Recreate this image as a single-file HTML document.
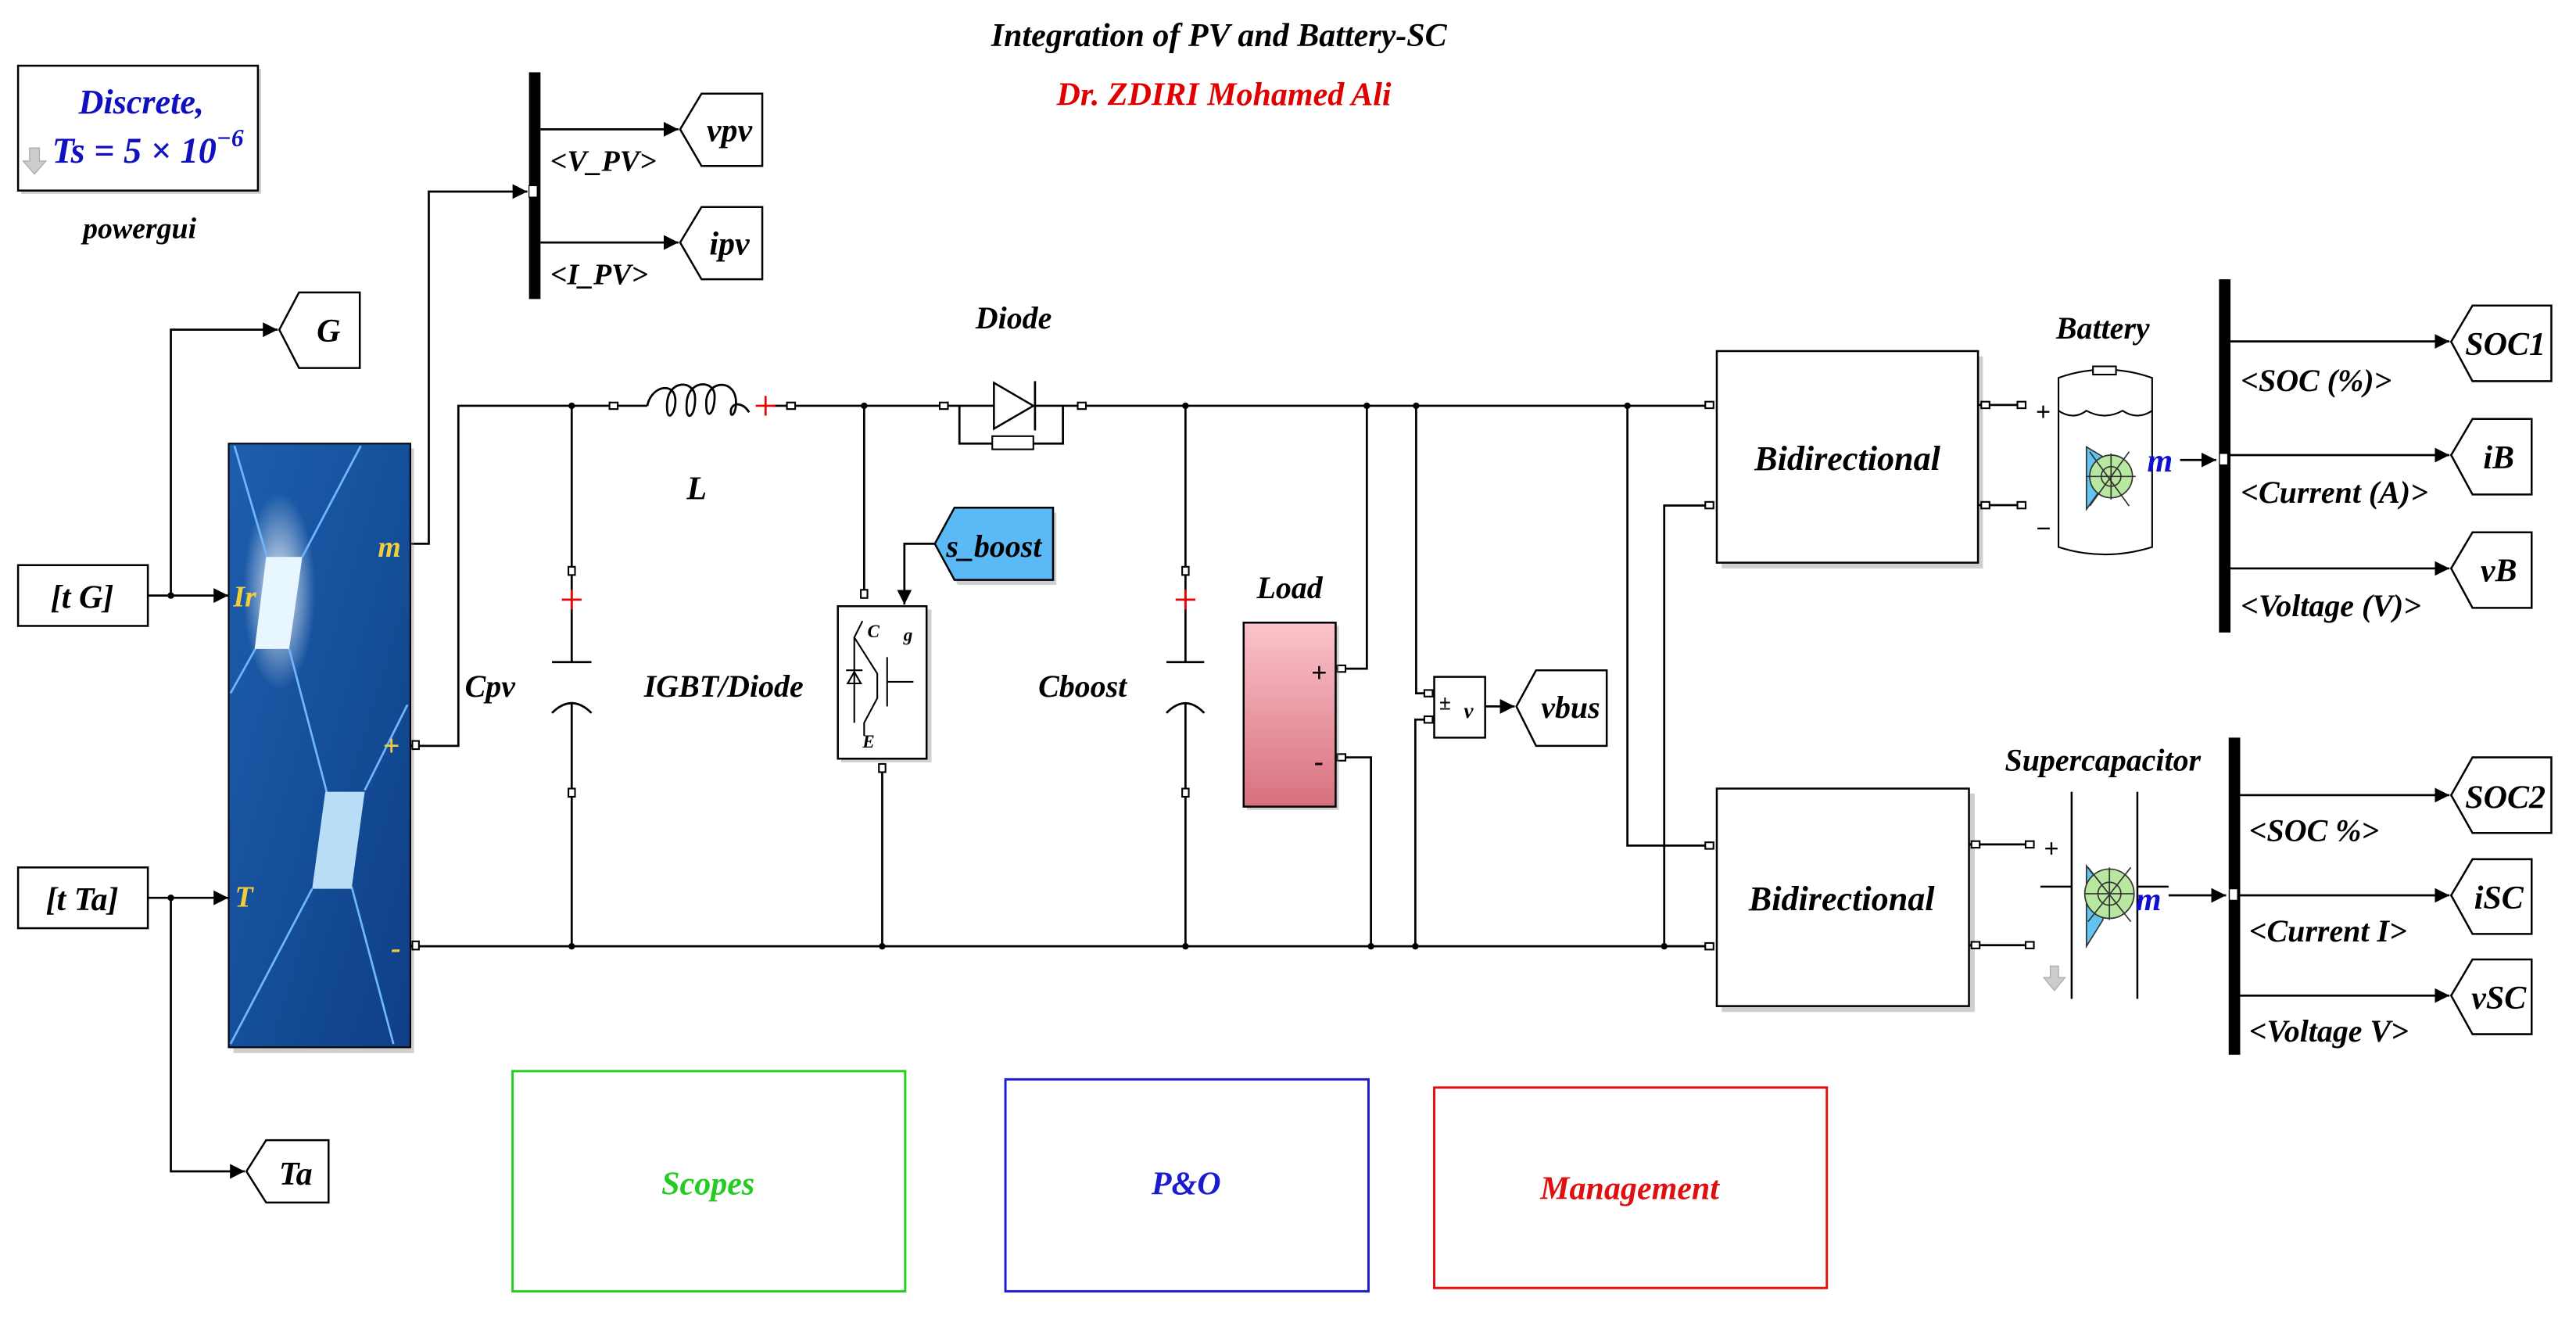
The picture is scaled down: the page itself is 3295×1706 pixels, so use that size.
<!DOCTYPE html>
<html><head><meta charset="utf-8"><style>
html,body{margin:0;padding:0;background:#fff;}
svg{display:block;}
text{font-family:"Liberation Serif",serif;font-style:italic;font-weight:bold;}
</style></head><body>
<svg width="3295" height="1706" viewBox="0 0 1568 812" preserveAspectRatio="none" xmlns="http://www.w3.org/2000/svg">
<defs>
<linearGradient id="pv" x1="0" y1="0" x2="1" y2="1"><stop offset="0" stop-color="#1d5fae"/><stop offset="0.5" stop-color="#154f9a"/><stop offset="1" stop-color="#0f3f86"/></linearGradient>
<radialGradient id="glow" cx="0.5" cy="0.5" r="0.5"><stop offset="0" stop-color="#ffffff" stop-opacity="0.9"/><stop offset="1" stop-color="#ffffff" stop-opacity="0"/></radialGradient>
<linearGradient id="load" x1="0" y1="0" x2="0" y2="1"><stop offset="0" stop-color="#fbc3cb"/><stop offset="1" stop-color="#d8707e"/></linearGradient>
<marker id="ar" viewBox="0 0 10 10" refX="10" refY="5" markerWidth="9" markerHeight="9" markerUnits="userSpaceOnUse" orient="auto"><path d="M0,0 L10,5 L0,10 z" fill="#000"/></marker>
</defs>
<text x="742" y="28" font-size="20" text-anchor="middle" fill="#000">Integration of PV and Battery-SC</text>
<text x="745" y="64" font-size="20" text-anchor="middle" fill="#e00000">Dr. ZDIRI Mohamed Ali</text>

<!-- powergui -->
<rect x="13" y="42" width="146" height="76" fill="#888" opacity="0.4"/>
<rect x="11" y="40" width="146" height="76" fill="#fff" stroke="#000" stroke-width="1.2"/>
<text x="86" y="69" font-size="21" text-anchor="middle" fill="#1010c0">Discrete,</text>
<text x="90" y="99" font-size="22" text-anchor="middle" fill="#1010c0">Ts = 5 × 10<tspan dy="-10" font-size="15">−6</tspan></text>
<path d="M18,90 h6 v8 h4 l-7,8 l-7,-8 h4z" fill="#ccc" stroke="#aaa" stroke-width="0.6"/>
<text x="85" y="145" font-size="18" text-anchor="middle" fill="#000">powergui</text>

<!-- PV bus -->
<rect x="322" y="44" width="7" height="138" fill="#000"/>
<rect x="322" y="113" width="5" height="7" fill="#fff" stroke="#000" stroke-width="0.6"/>
<g stroke="#000" stroke-width="1.3" fill="none">
<polyline points="250,331 261,331 261,116.6 321,116.6" marker-end="url(#ar)"/>
<line x1="329" y1="78.7" x2="413" y2="78.7" marker-end="url(#ar)"/>
<line x1="329" y1="147.6" x2="413" y2="147.6" marker-end="url(#ar)"/>
</g>
<g fill="#fff" stroke="#000" stroke-width="1.2">
<polygon points="414,78.7 427,57 464,57 464,101 427,101"/>
<polygon points="414,147.6 427,126 464,126 464,170 427,170"/>
</g>
<text x="444" y="86" font-size="20" text-anchor="middle">vpv</text>
<text x="444" y="155" font-size="20" text-anchor="middle">ipv</text>
<text x="335" y="104" font-size="18">&lt;V_PV&gt;</text>
<text x="335" y="173" font-size="18">&lt;I_PV&gt;</text>

<!-- G goto and inputs -->
<g fill="#fff" stroke="#000" stroke-width="1.2">
<polygon points="170,200.7 182,178 219,178 219,224 182,224"/>
<rect x="11" y="344" width="79" height="37"/>
<rect x="11" y="528" width="79" height="37"/>
<polygon points="150,713 162,694 200,694 200,732 162,732"/>
</g>
<text x="200" y="208" font-size="20" text-anchor="middle">G</text>
<text x="50" y="370" font-size="20" text-anchor="middle">[t G]</text>
<text x="50" y="554" font-size="20" text-anchor="middle">[t Ta]</text>
<text x="180" y="721" font-size="20" text-anchor="middle">Ta</text>
<g stroke="#000" stroke-width="1.3" fill="none">
<line x1="90" y1="362.5" x2="139" y2="362.5" marker-end="url(#ar)"/>
<polyline points="104,362.5 104,200.7 169,200.7" marker-end="url(#ar)"/>
<line x1="90" y1="546.5" x2="139" y2="546.5" marker-end="url(#ar)"/>
<polyline points="104,546.5 104,713 149,713" marker-end="url(#ar)"/>
</g>
<circle cx="104" cy="362.5" r="2" fill="#000"/><circle cx="104" cy="546.5" r="2" fill="#000"/>

<!-- PV panel -->
<rect x="142" y="273" width="110" height="368" fill="#888" opacity="0.4"/>
<rect x="139.2" y="270" width="110.6" height="367.5" fill="url(#pv)" stroke="#000" stroke-width="1"/>
<ellipse cx="170" cy="360" rx="22" ry="60" fill="url(#glow)"/>
<g stroke="#6fb6ff" stroke-width="1.3" fill="none">
<line x1="142.7" y1="271.4" x2="162.5" y2="339"/>
<line x1="219.6" y1="271.4" x2="184" y2="339"/>
<line x1="155.4" y1="395" x2="140.3" y2="422"/>
<line x1="176" y1="395" x2="199" y2="482.6"/>
<line x1="222" y1="481" x2="248" y2="429"/>
<line x1="190" y1="541" x2="140.3" y2="635.5"/>
<line x1="214" y1="539.6" x2="239.5" y2="635.5"/>
</g>
<polygon points="162,339 184,339 176,395 155,395" fill="#e8f6ff"/>
<polygon points="198,482 222,482 214,541 190,541" fill="#b9dcf7"/>
<text x="230" y="339" font-size="18" fill="#f2cf3a">m</text>
<text x="142" y="369" font-size="18" fill="#f2cf3a">Ir</text>
<text x="233" y="460" font-size="18" fill="#f2cf3a">+</text>
<text x="143" y="552" font-size="18" fill="#f2cf3a">T</text>
<text x="238" y="583" font-size="18" fill="#f2cf3a">-</text>

<!-- power circuit wires -->
<g stroke="#000" stroke-width="1.3" fill="none">
<polyline points="250,454 279,454 279,247 372,247"/>
<line x1="250" y1="576" x2="1040" y2="576"/>
<line x1="483" y1="247" x2="574" y2="247"/>
<line x1="658" y1="247" x2="1040" y2="247"/>
<line x1="348" y1="247" x2="348" y2="403"/>
<line x1="336" y1="403" x2="360" y2="403"/>
<path d="M336,434 Q348,422 360,434"/>
<line x1="348" y1="428" x2="348" y2="576"/>
<line x1="373" y1="247" x2="394" y2="247"/>
<path d="M394,247 c2,-10 12,-14 16,-8 c4,8 -4,22 -4,8 c0,-16 16,-16 17,-6 c1,12 -6,18 -5,4 c1,-14 17,-14 17,-4 c0,12 -6,16 -5,2 c2,-12 18,-12 18,2 c0,8 -4,10 -3,4 c2,-5 8,-3 11,2"/>
<line x1="470" y1="247" x2="481" y2="247"/>
<line x1="526" y1="247" x2="526" y2="362"/>
<line x1="537" y1="467" x2="537" y2="576"/>
<polyline points="569,331 550.5,331 550.5,368" marker-end="url(#ar)"/>
<line x1="574" y1="247" x2="605" y2="247"/>
<line x1="630" y1="247" x2="658" y2="247"/>
<polyline points="584,247 584,270 604,270"/>
<polyline points="629,270 647,270 647,247"/>
<line x1="721.6" y1="247" x2="721.6" y2="403"/>
<line x1="710" y1="403" x2="733" y2="403"/>
<path d="M710,434 Q721.6,422 733,434"/>
<line x1="721.6" y1="428" x2="721.6" y2="576"/>
<polyline points="815,407 832,407 832,247"/>
<polyline points="815,461 834.5,461 834.5,576"/>
<polyline points="868,422 862,422 862,247"/>
<polyline points="868,438 861.5,438 861.5,576"/>
<line x1="904" y1="430" x2="922" y2="430" marker-end="url(#ar)"/>
<polyline points="990.6,247 990.6,514.7 1040,514.7"/>
<polyline points="1040,307.7 1013,307.7 1013,576"/>
<line x1="1013" y1="576" x2="1040" y2="576"/>
</g>
<g fill="#000">
<circle cx="348" cy="247" r="2"/><circle cx="348" cy="576" r="2"/>
<circle cx="526" cy="247" r="2"/><circle cx="537" cy="576" r="2"/>
<circle cx="721.6" cy="247" r="2"/><circle cx="721.6" cy="576" r="2"/>
<circle cx="832" cy="247" r="2"/><circle cx="834.5" cy="576" r="2"/>
<circle cx="862" cy="247" r="2"/><circle cx="861.5" cy="576" r="2"/>
<circle cx="990.6" cy="247" r="2"/><circle cx="1013" cy="576" r="2"/>
</g>
<g fill="#fff" stroke="#000" stroke-width="1">
<rect x="251" y="451" width="4" height="5"/><rect x="251" y="573" width="4" height="5"/>
<rect x="346" y="345" width="4" height="5"/><rect x="346" y="480" width="4" height="5"/>
<rect x="371" y="245" width="5" height="4"/><rect x="479" y="245" width="5" height="4"/>
<rect x="524" y="359" width="4" height="5"/><rect x="535" y="465" width="4" height="5"/>
<rect x="572" y="245" width="5" height="4"/><rect x="656" y="245" width="5" height="4"/>
<rect x="719.6" y="345" width="4" height="5"/><rect x="719.6" y="480" width="4" height="5"/>
<rect x="814" y="405" width="5" height="4"/><rect x="814" y="459" width="5" height="4"/>
<rect x="867" y="420" width="5" height="4"/><rect x="867" y="436" width="5" height="4"/>
</g>
<g stroke="#e00" stroke-width="1.3">
<line x1="348" y1="359" x2="348" y2="371"/><line x1="342" y1="365" x2="354" y2="365"/>
<line x1="466" y1="241" x2="466" y2="253"/><line x1="460" y1="247" x2="472" y2="247"/>
<line x1="721.6" y1="359" x2="721.6" y2="371"/><line x1="715.6" y1="365" x2="727.6" y2="365"/>
</g>
<text x="283" y="424" font-size="19">Cpv</text>
<text x="418" y="304" font-size="20">L</text>
<text x="392" y="424" font-size="19">IGBT/Diode</text>
<text x="632" y="424" font-size="19">Cboost</text>
<text x="617" y="200" font-size="19" text-anchor="middle">Diode</text>
<text x="785" y="364" font-size="19" text-anchor="middle">Load</text>

<polygon points="605,233 605,261 629,247" fill="#fff" stroke="#000" stroke-width="1.2"/>
<line x1="630" y1="232" x2="630" y2="262" stroke="#000" stroke-width="1.3"/>
<rect x="604" y="265.5" width="25" height="8" fill="#fff" stroke="#000" stroke-width="1"/>

<rect x="512" y="371" width="55" height="93" fill="#888" opacity="0.4"/>
<rect x="510" y="369" width="54" height="92.8" fill="#fff" stroke="#000" stroke-width="1.2"/>
<g stroke="#000" stroke-width="1" fill="none">
<polyline points="525,378 520,388 534,410 534,425 526,440 526,448"/>
<line x1="540" y1="400" x2="540" y2="430"/><line x1="540" y1="415" x2="556" y2="415"/>
<line x1="520" y1="388" x2="520" y2="440"/>
<polygon points="516,416 524,416 520,409"/><line x1="515" y1="408" x2="525" y2="408"/>
</g>
<text x="528" y="388" font-size="11" fill="#000">C</text>
<text x="550" y="390" font-size="11" fill="#000">g</text>
<text x="525" y="455" font-size="11" fill="#000">E</text>
<polygon points="571,333 583,312 643,312 643,356 583,356" fill="#888" opacity="0.4"/>
<polygon points="569,331 581,309 641,309 641,353 581,353" fill="#5bb9f5" stroke="#000" stroke-width="1.2"/>
<text x="605" y="339" font-size="19" text-anchor="middle">s_boost</text>

<rect x="759" y="381" width="56" height="112" fill="#888" opacity="0.4"/>
<rect x="757" y="379" width="56" height="112" fill="url(#load)" stroke="#000" stroke-width="1.2"/>
<text x="798" y="415" font-size="17" fill="#000" font-style="normal">+</text>
<text x="800" y="469" font-size="17" fill="#000" font-style="normal">-</text>

<rect x="873" y="412" width="31" height="37" fill="#fff" stroke="#000" stroke-width="1.2"/>
<text x="876" y="432" font-size="13" fill="#000" font-style="normal">±</text>
<text x="891" y="437" font-size="13" fill="#000">v</text>
<polygon points="923,430 935,408 978,408 978,454 935,454" fill="#fff" stroke="#000" stroke-width="1.2"/>
<text x="956" y="437" font-size="19" text-anchor="middle">vbus</text>

<rect x="1048" y="217" width="159" height="129" fill="#888" opacity="0.4"/>
<rect x="1045" y="213.7" width="159" height="128.8" fill="#fff" stroke="#000" stroke-width="1.2"/>
<text x="1124.5" y="286" font-size="21" text-anchor="middle">Bidirectional</text>
<rect x="1048" y="483" width="154" height="133" fill="#888" opacity="0.4"/>
<rect x="1045" y="480" width="153.5" height="132.4" fill="#fff" stroke="#000" stroke-width="1.2"/>
<text x="1121" y="554" font-size="21" text-anchor="middle">Bidirectional</text>
<g stroke="#000" stroke-width="1.3" fill="none">
<line x1="1204" y1="246.5" x2="1230" y2="246.5"/><line x1="1204" y1="307.5" x2="1230" y2="307.5"/>
<line x1="1198.5" y1="514" x2="1235" y2="514"/><line x1="1198.5" y1="575.3" x2="1235" y2="575.3"/>
</g>
<g fill="#fff" stroke="#000" stroke-width="1">
<rect x="1038" y="244.5" width="5" height="4"/><rect x="1038" y="305.5" width="5" height="4"/>
<rect x="1038" y="512.7" width="5" height="4"/><rect x="1038" y="574" width="5" height="4"/>
<rect x="1206" y="244.5" width="5" height="4"/><rect x="1206" y="305.5" width="5" height="4"/>
<rect x="1228" y="244.5" width="5" height="4"/><rect x="1228" y="305.5" width="5" height="4"/>
<rect x="1200" y="512" width="5" height="4"/><rect x="1200" y="573.3" width="5" height="4"/>
<rect x="1233" y="512" width="5" height="4"/><rect x="1233" y="573.3" width="5" height="4"/>
</g>

<text x="1280" y="206" font-size="19" text-anchor="middle">Battery</text>
<g stroke="#000" stroke-width="1" fill="#fff">
<path d="M1253,230 Q1281,220 1310,230 L1310,333 Q1281,342 1253,333 Z"/>
<rect x="1274" y="223" width="14" height="5"/>
<path d="M1253,250 Q1262,256 1270,250 Q1281,256 1292,250 Q1301,256 1310,250" fill="none"/>
</g>
<text x="1239" y="256" font-size="16" font-style="normal" font-weight="normal">+</text>
<text x="1239" y="327" font-size="16" font-style="normal" font-weight="normal">−</text>
<g stroke="#333" stroke-width="0.8">
<path d="M1270,272 L1270,310 L1280,296 L1280,278 Z" fill="#62c4f0"/>
<circle cx="1285" cy="290" r="13" fill="#b8e8a0"/>
<circle cx="1285" cy="290" r="6" fill="none"/>
<line x1="1270" y1="290" x2="1300" y2="290"/><line x1="1285" y1="276" x2="1285" y2="304"/>
<line x1="1272" y1="275" x2="1296" y2="308"/><line x1="1272" y1="308" x2="1296" y2="275"/>
</g>
<text x="1307" y="287" font-size="20" fill="#1010d0">m</text>
<line x1="1327" y1="280" x2="1349" y2="280" stroke="#000" stroke-width="1.3" marker-end="url(#ar)"/>
<rect x="1350.7" y="170" width="7" height="215" fill="#000"/>
<rect x="1351" y="276" width="5" height="7" fill="#fff" stroke="#000" stroke-width="0.6"/>
<g stroke="#000" stroke-width="1.3" fill="none">
<line x1="1357.6" y1="207.8" x2="1491" y2="207.8" marker-end="url(#ar)"/>
<line x1="1357.6" y1="277" x2="1491" y2="277" marker-end="url(#ar)"/>
<line x1="1357.6" y1="346" x2="1491" y2="346" marker-end="url(#ar)"/>
</g>
<g fill="#fff" stroke="#000" stroke-width="1.2">
<polygon points="1492,208 1505,186 1553,186 1553,232 1505,232"/>
<polygon points="1492,277 1505,255 1541,255 1541,301 1505,301"/>
<polygon points="1492,346 1505,324 1541,324 1541,370 1505,370"/>
</g>
<text x="1525" y="216" font-size="20" text-anchor="middle">SOC1</text>
<text x="1521" y="285" font-size="20" text-anchor="middle">iB</text>
<text x="1521" y="354" font-size="20" text-anchor="middle">vB</text>
<text x="1364" y="238" font-size="19">&lt;SOC (%)&gt;</text>
<text x="1364" y="306" font-size="19">&lt;Current (A)&gt;</text>
<text x="1364" y="375" font-size="19">&lt;Voltage (V)&gt;</text>

<text x="1280" y="469" font-size="19" text-anchor="middle">Supercapacitor</text>
<g stroke="#000" stroke-width="1.2">
<line x1="1261" y1="482" x2="1261" y2="608"/><line x1="1301" y1="482" x2="1301" y2="608"/>
<line x1="1242" y1="539.7" x2="1261" y2="539.7"/><line x1="1301" y1="539.7" x2="1320" y2="539.7"/>
</g>
<text x="1244" y="522" font-size="16" font-style="normal" font-weight="normal">+</text>
<path d="M1248,588 h5 v7 h4 l-6.5,8 l-6.5,-8 h4z" fill="#ccc" stroke="#aaa" stroke-width="0.6"/>
<g stroke="#333" stroke-width="0.8">
<path d="M1270,527 L1270,576 L1280,560 L1280,540 Z" fill="#62c4f0"/>
<circle cx="1284" cy="544" r="15" fill="#b8e8a0"/>
<circle cx="1284" cy="544" r="7" fill="none"/>
<line x1="1269" y1="544" x2="1299" y2="544"/><line x1="1284" y1="528" x2="1284" y2="560"/>
<line x1="1271" y1="528" x2="1297" y2="561"/><line x1="1271" y1="561" x2="1297" y2="528"/>
</g>
<text x="1300" y="554" font-size="20" fill="#1010d0">m</text>
<line x1="1320" y1="545" x2="1355" y2="545" stroke="#000" stroke-width="1.3" marker-end="url(#ar)"/>
<rect x="1356.6" y="449" width="7" height="193" fill="#000"/>
<rect x="1357" y="541" width="5" height="7" fill="#fff" stroke="#000" stroke-width="0.6"/>
<g stroke="#000" stroke-width="1.3" fill="none">
<line x1="1363.5" y1="484" x2="1491" y2="484" marker-end="url(#ar)"/>
<line x1="1363.5" y1="545" x2="1491" y2="545" marker-end="url(#ar)"/>
<line x1="1363.5" y1="606" x2="1491" y2="606" marker-end="url(#ar)"/>
</g>
<g fill="#fff" stroke="#000" stroke-width="1.2">
<polygon points="1492,484 1505,461 1553,461 1553,507 1505,507"/>
<polygon points="1492,545 1505,523 1541,523 1541,568.5 1505,568.5"/>
<polygon points="1492,606 1505,584 1541,584 1541,629.5 1505,629.5"/>
</g>
<text x="1525" y="492" font-size="20" text-anchor="middle">SOC2</text>
<text x="1521" y="553" font-size="20" text-anchor="middle">iSC</text>
<text x="1521" y="614" font-size="20" text-anchor="middle">vSC</text>
<text x="1369" y="512" font-size="19">&lt;SOC %&gt;</text>
<text x="1369" y="573" font-size="19">&lt;Current I&gt;</text>
<text x="1369" y="634" font-size="19">&lt;Voltage V&gt;</text>

<rect x="312" y="652" width="239" height="134" fill="#fff" stroke="#22cc22" stroke-width="1.4"/>
<text x="431" y="727" font-size="20" text-anchor="middle" fill="#22cc22">Scopes</text>
<rect x="612" y="657" width="221" height="129" fill="#fff" stroke="#1a1ad0" stroke-width="1.4"/>
<text x="722" y="727" font-size="20" text-anchor="middle" fill="#1a1ad0">P&amp;O</text>
<rect x="873" y="662" width="239" height="122" fill="#fff" stroke="#e01010" stroke-width="1.4"/>
<text x="992" y="730" font-size="20" text-anchor="middle" fill="#e01010">Management</text>
</svg>
</body></html>
